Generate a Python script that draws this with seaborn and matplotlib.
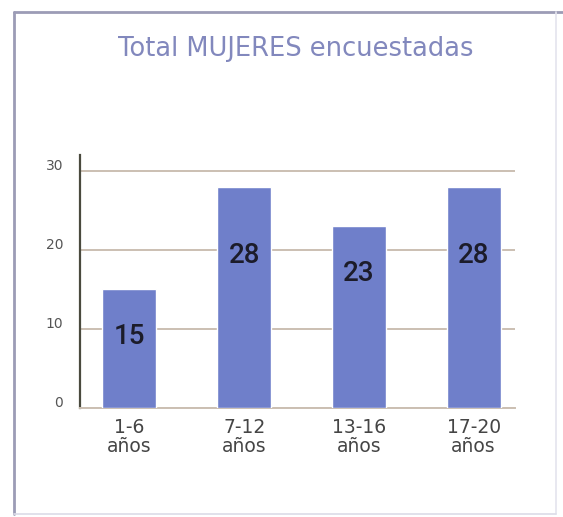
import matplotlib
matplotlib.use("Agg")
import matplotlib.pyplot as plt
import matplotlib.transforms as mtransforms
import seaborn as sns
import pandas as pd
from matplotlib.lines import Line2D

categories = ["1-6\naños", "7-12\naños", "13-16\naños", "17-20\naños"]
values = [15, 28, 23, 28]
yticks = [0, 10, 20, 30]
title = "Total MUJERES encuestadas"

sns.set_theme(style="white")
plt.rcParams["font.family"] = ["DejaVu Sans"]

df = pd.DataFrame({"grupo": categories, "total": values})

W, H = 563, 517
fig = plt.figure(figsize=(W / 100, H / 100), dpi=100)
fig.patch.set_facecolor("white")
ax = fig.add_axes([80 / W, 1 - 408 / H, (515 - 80) / W, (408 - 168.6) / H])

sns.barplot(data=df, x="grupo", y="total", color="#6f7fca", saturation=1,
            width=0.47, ax=ax, zorder=3)

ax.set_ylim(0, 30.3)
ax.set_xlim(-0.43, 3.36)
ax.set_yticks(yticks)
ax.set_yticklabels([str(t) for t in yticks], color="#555555", fontsize=10)
ax.tick_params(axis="y", length=0, pad=12)
ax.tick_params(axis="x", length=0, pad=7, labelsize=13.5, labelcolor="#454545")
for lab in ax.get_xticklabels():
    lab.set_linespacing(1.0)
offset = mtransforms.ScaledTranslation(0, 5 / 72, fig.dpi_scale_trans)
for lab in ax.get_yticklabels():
    lab.set_transform(lab.get_transform() + offset)
ax.set_xlabel("")
ax.set_ylabel("")
ax.yaxis.grid(True, color="#cbbfb2", linewidth=1.4, zorder=0)
ax.xaxis.grid(False)
for side in ["top", "right"]:
    ax.spines[side].set_visible(False)
ax.spines["bottom"].set_color("#cbbfb2")
ax.spines["bottom"].set_linewidth(1.4)
ax.spines["left"].set_color("#4a4a3e")
ax.spines["left"].set_linewidth(1.6)
ax.spines["left"].set_bounds(0, 32)

for i, v in enumerate(values):
    ax.text(i, min(v - 6, 19.3), str(v), ha="center", va="center",
            fontsize=20, color="#1c1c2a", fontweight="medium",
            family=["Roboto", "DejaVu Sans"], zorder=5)

fig.text(296 / W, 1 - 49 / H, title, ha="center", va="center",
         fontsize=18.5, color="#8288bd")

# page frame
fig.add_artist(Line2D([14 / W, 14 / W], [1 - 12 / H, 1 - 514 / H],
                      transform=fig.transFigure, color="#9c9cb6", lw=2))
fig.add_artist(Line2D([14 / W, 1.0], [1 - 12 / H, 1 - 12 / H],
                      transform=fig.transFigure, color="#9c9cb6", lw=2))
fig.add_artist(Line2D([556 / W, 556 / W], [1 - 12 / H, 1 - 514 / H],
                      transform=fig.transFigure, color="#e4e4ee", lw=1.2))
fig.add_artist(Line2D([14 / W, 556 / W], [1 - 514 / H, 1 - 514 / H],
                      transform=fig.transFigure, color="#dcdce8", lw=1.2))

fig.savefig("out.png", dpi=100, facecolor="white")
